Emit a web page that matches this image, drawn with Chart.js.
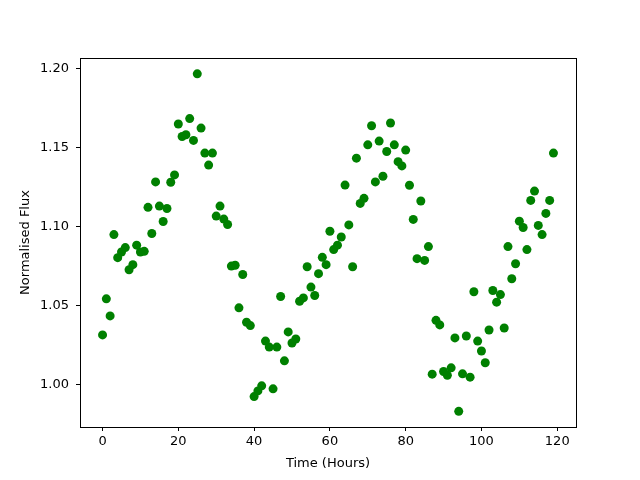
<!DOCTYPE html>
<html>
<head>
<meta charset="utf-8">
<script src="https://cdn.jsdelivr.net/npm/chart.js@4/dist/chart.umd.min.js"></script>
<style>
html,body{margin:0;padding:0;background:#fff;}
#wrap{width:640px;height:480px;position:relative;}
</style>
</head>
<body>
<div id="wrap"><canvas id="c" width="640" height="480"></canvas></div>
<script>
const hours = [0,1,2,3,4,5,6,7,8,9,10,11,12,13,14,15,16,17,18,19,20,21,22,23,24,25,26,27,28,29,30,31,32,33,34,35,36,37,38,39,40,41,42,43,44,45,46,47,48,49,50,51,52,53,54,55,56,57,58,59,60,61,62,63,64,65,66,67,68,69,70,71,72,73,74,75,76,77,78,79,80,81,82,83,84,85,86,87,88,89,90,91,92,93,94,95,96,97,98,99,100,101,102,103,104,105,106,107,108,109,110,111,112,113,114,115,116,117,118,119];
const flux = [1.0316,1.0544,1.0436,1.0950,1.0804,1.0840,1.0868,1.0728,1.0760,1.0883,
1.0840,1.0844,1.1122,1.0957,1.1283,1.1130,1.1033,1.1115,1.1281,1.1327,
1.1649,1.1570,1.1581,1.1683,1.1545,1.1966,1.1623,1.1465,1.1389,1.1465,
1.1067,1.1130,1.1048,1.1014,1.0751,1.0756,1.0487,1.0698,1.0396,1.0375,
0.9926,0.9962,0.9994,1.0277,1.0239,0.9975,1.0239,1.0559,1.0152,1.0335,
1.0265,1.0290,1.0529,1.0550,1.0747,1.0618,1.0565,1.0703,1.0806,1.0760,
1.0971,1.0855,1.0883,1.0935,1.1263,1.1011,1.0747,1.1433,1.1147,1.1179,
1.1517,1.1638,1.1283,1.1541,1.1319,1.1475,1.1655,1.1517,1.1411,1.1384,
1.1484,1.1262,1.1046,1.0798,1.1162,1.0787,1.0874,1.0068,1.0408,1.0379,
1.0085,1.0061,1.0108,1.0297,0.9833,1.0070,1.0309,1.0049,1.0589,1.0277,
1.0214,1.0140,1.0347,1.0597,1.0523,1.0571,1.0360,1.0874,1.0671,1.0766,
1.1035,1.0995,1.0855,1.1166,1.1225,1.1008,1.0950,1.1084,1.1166,1.1465];
const xTicks = [0,20,40,60,80,100,120];
const yTicks = [1.00,1.05,1.10,1.15,1.20];
const xTitle = 'Time (Hours)';
const yTitle = 'Normalised Flux';

const points = hours.map((h,i)=>({x:h,y:flux[i]}));
const font = {family:'"DejaVu Sans", sans-serif', size:13};

const frame = {
  id:'frame',
  afterDraw(chart){
    const a = chart.chartArea, ctx = chart.ctx;
    ctx.save();
    ctx.strokeStyle = '#000';
    ctx.lineWidth = 1;
    ctx.strokeRect(Math.round(a.left)+0.5, Math.round(a.top)+0.5, Math.round(a.right-a.left), Math.round(a.bottom-a.top));
    ctx.restore();
  }
};

new Chart(document.getElementById('c'), {
  type:'scatter',
  data:{datasets:[{data:points, backgroundColor:'#008000', borderColor:'#008000', pointRadius:4.5, pointHoverRadius:4.5, borderWidth:0}]},
  options:{
    responsive:false, animation:false,
    layout:{padding:{left:0, top:58, right:64, bottom:0}},
    plugins:{legend:{display:false}, tooltip:{enabled:false}},
    scales:{
      x:{
        type:'linear', min:-5.95, max:124.95,
        afterBuildTicks(s){ s.ticks = xTicks.map(v=>({value:v})); },
        afterFit(s){ s.height = 53; },
        ticks:{color:'#000', font:font, padding:3, maxRotation:0, callback:v=>String(v)},
        grid:{display:true, drawOnChartArea:false, drawTicks:true, tickLength:4, color:'#000'},
        border:{display:true, color:'#000'},
        title:{display:true, text:xTitle, color:'#000', font:font, padding:{top:2,bottom:9}}
      },
      y:{
        type:'linear', min:0.9734, max:1.2066,
        afterBuildTicks(s){ s.ticks = yTicks.map(v=>({value:v})); },
        afterFit(s){ s.width = 80; },
        ticks:{color:'#000', font:font, padding:7, callback:v=>Number(v).toFixed(2)},
        grid:{display:true, drawOnChartArea:false, drawTicks:true, tickLength:4, color:'#000'},
        border:{display:true, color:'#000'},
        title:{display:true, text:yTitle, color:'#000', font:font, padding:{top:18,bottom:4}}
      }
    }
  },
  plugins:[frame]
});
</script>
</body>
</html>
